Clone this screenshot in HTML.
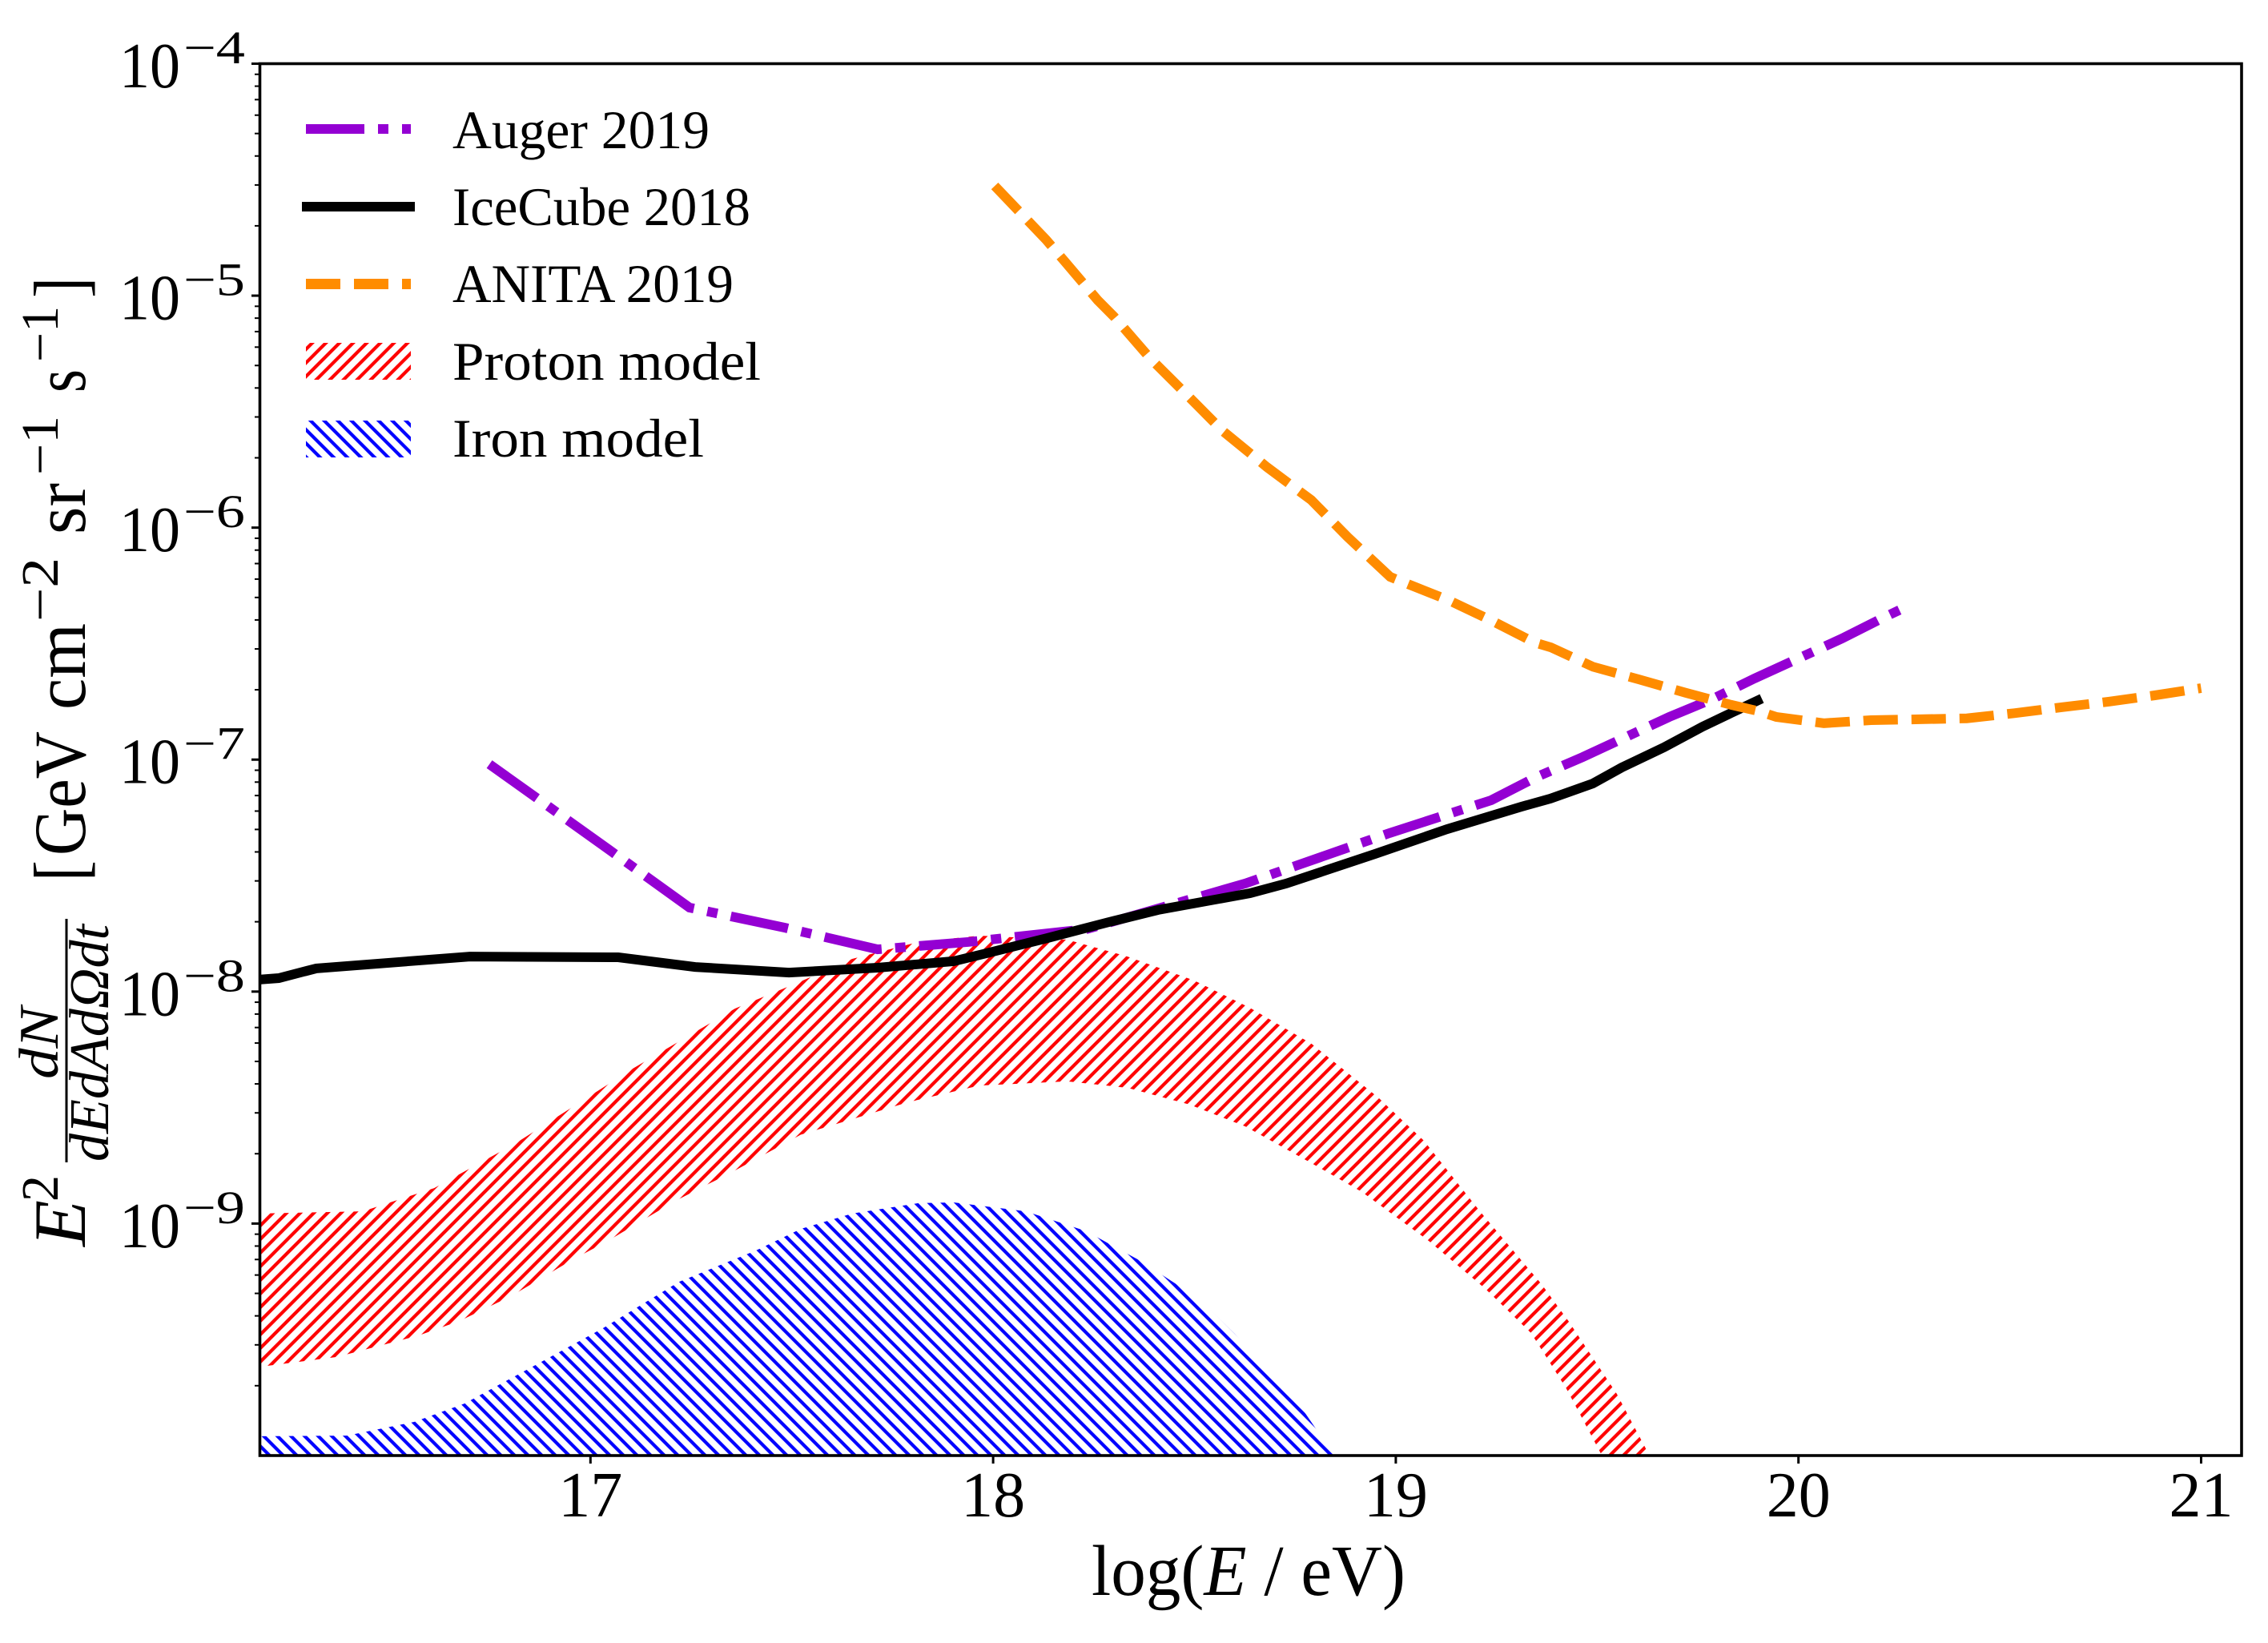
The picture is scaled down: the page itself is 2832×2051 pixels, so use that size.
<!DOCTYPE html>
<html lang="en">
<head>
<meta charset="utf-8">
<title>Neutrino flux limits and models</title>
<style>
html,body{margin:0;padding:0;background:#fff;}
svg{display:block;}
text{font-family:"Liberation Serif",serif;fill:#000;}
.it{font-style:italic;}
</style>
</head>
<body>
<svg id="chart" xmlns="http://www.w3.org/2000/svg" width="2832" height="2051" viewBox="0 0 2832 2051">
<defs>
<clipPath id="plot-clip"><rect x="325" y="80" width="2474" height="1736"/></clipPath>
<pattern id="hatch-red" width="17" height="17" patternUnits="userSpaceOnUse" patternTransform="translate(2,0)">
<path d="M-4,21L21,-4M-4,4L4,-4M13,21L21,13" stroke="#ff0000" stroke-width="4.2" fill="none"/>
</pattern>
<pattern id="hatch-blue" width="17" height="17" patternUnits="userSpaceOnUse" patternTransform="translate(0,1.3)">
<path d="M-4,-4L21,21M-4,13L4,21M13,-4L21,4" stroke="#0000ff" stroke-width="4.2" fill="none"/>
</pattern>
</defs>
<rect x="0" y="0" width="2832" height="2051" fill="#fff"/>
<g id="bands" clip-path="url(#plot-clip)"></g>
<g id="lines" clip-path="url(#plot-clip)"></g>
<g id="ticks"></g>
<g id="tick-labels"></g>
<rect x="324.5" y="79.5" width="2474.5" height="1737.5" fill="none" stroke="#000" stroke-width="3.6"/>

<g>
<g>
<line x1="382" y1="161" x2="513" y2="161" stroke="#9400d3" stroke-width="12" stroke-dasharray="73 17 13 17"/>
<text x="565" y="185" font-size="68" textLength="321" lengthAdjust="spacingAndGlyphs">Auger 2019</text>
</g>
<g>
<line x1="377" y1="258" x2="518" y2="258" stroke="#000" stroke-width="12"/>
<text x="565" y="281" font-size="68" textLength="372" lengthAdjust="spacingAndGlyphs">IceCube 2018</text>
</g>
<g>
<line x1="382" y1="354.5" x2="513" y2="354.5" stroke="#ff8c00" stroke-width="13" stroke-dasharray="43 17"/>
<text x="565" y="377" font-size="68" textLength="351" lengthAdjust="spacingAndGlyphs">ANITA 2019</text>
</g>
<g>
<rect x="382" y="428" width="131" height="46" fill="url(#hatch-red)"/>
<text x="565" y="474" font-size="68" textLength="385" lengthAdjust="spacingAndGlyphs">Proton model</text>
</g>
<g>
<rect x="382" y="525" width="131" height="46" fill="url(#hatch-blue)"/>
<text x="565" y="570" font-size="68" textLength="314" lengthAdjust="spacingAndGlyphs">Iron model</text>
</g>
</g>

<text x="1363" y="1991" font-size="90" textLength="392" lengthAdjust="spacingAndGlyphs">log(<tspan class="it">E</tspan> / eV)</text>

<g>
<text transform="translate(106,1556) rotate(-90)" class="it" font-size="92" textLength="58" lengthAdjust="spacingAndGlyphs">E</text>
<text transform="translate(72,1500) rotate(-90)" font-size="66">2</text>
<text transform="translate(72,1347) rotate(-90)" class="it" font-size="70" textLength="90" lengthAdjust="spacingAndGlyphs">dN</text>
<rect x="81.5" y="1147" width="3" height="304" fill="#000"/>
<text transform="translate(135,1450) rotate(-90)" class="it" font-size="70" textLength="296" lengthAdjust="spacingAndGlyphs">dEdAdΩdt</text>
<text transform="translate(106,1100) rotate(-90)" font-size="92" textLength="26" lengthAdjust="spacingAndGlyphs">[</text>
<text transform="translate(106,1068) rotate(-90)" font-size="92" textLength="155" lengthAdjust="spacingAndGlyphs">GeV</text>
<text transform="translate(106,886) rotate(-90)" font-size="92" textLength="108" lengthAdjust="spacingAndGlyphs">cm</text>
<text transform="translate(72,776) rotate(-90)" font-size="66" textLength="80" lengthAdjust="spacingAndGlyphs">−2</text>
<text transform="translate(106,667) rotate(-90)" font-size="92" textLength="64" lengthAdjust="spacingAndGlyphs">sr</text>
<text transform="translate(72,593) rotate(-90)" font-size="66" textLength="74" lengthAdjust="spacingAndGlyphs">−1</text>
<text transform="translate(106,490) rotate(-90)" font-size="92" textLength="29" lengthAdjust="spacingAndGlyphs">s</text>
<text transform="translate(72,452) rotate(-90)" font-size="66" textLength="70" lengthAdjust="spacingAndGlyphs">−1</text>
<text transform="translate(106,372) rotate(-90)" font-size="92" textLength="26" lengthAdjust="spacingAndGlyphs">]</text>
</g>
</svg>

<script>
// Data: x = log10(E/eV), values = log10(flux)
const xTickValues = [17, 18, 19, 20, 21];
const yTickExponents = [-4, -5, -6, -7, -8, -9];
const yMinorMultipliers = [2, 3, 4, 5, 6, 7, 8, 9];

const augerLogE = [16.749, 17.025, 17.246, 17.481, 17.713, 17.94, 18.232, 18.626, 18.984, 19.237, 19.349, 19.464, 19.679, 19.785, 19.891, 20.108, 20.211, 20.275];
const augerLogFlux = [-7.02, -7.362, -7.638, -7.724, -7.818, -7.786, -7.731, -7.534, -7.317, -7.175, -7.075, -6.989, -6.816, -6.74, -6.65, -6.478, -6.388, -6.335];

const icecubeLogE = [16.18, 16.226, 16.319, 16.7, 17.069, 17.26, 17.493, 17.713, 17.902, 17.992, 18.131, 18.284, 18.41, 18.638, 18.728, 18.948, 19.127, 19.312, 19.384, 19.489, 19.561, 19.666, 19.762, 19.833, 19.909];
const icecubeLogFlux = [-7.948, -7.942, -7.9, -7.849, -7.852, -7.894, -7.918, -7.897, -7.869, -7.831, -7.771, -7.702, -7.648, -7.576, -7.534, -7.407, -7.3, -7.203, -7.168, -7.103, -7.034, -6.947, -6.858, -6.799, -6.737];

const anitaLogE = [18.004, 18.131, 18.177, 18.26, 18.3, 18.39, 18.48, 18.57, 18.68, 18.79, 18.88, 18.986, 19.04, 19.13, 19.237, 19.344, 19.385, 19.49, 19.603, 19.72, 19.833, 19.903, 19.945, 20.063, 20.18, 20.3, 20.418, 20.536, 20.655, 20.772, 20.885, 21.0];
const anitaLogFlux = [-4.527, -4.758, -4.851, -5.02, -5.09, -5.27, -5.425, -5.583, -5.739, -5.881, -6.04, -6.212, -6.25, -6.312, -6.4, -6.495, -6.516, -6.6, -6.654, -6.712, -6.764, -6.792, -6.816, -6.843, -6.83, -6.826, -6.822, -6.8, -6.774, -6.75, -6.723, -6.692];

const protonUpperLogE = [16.18, 16.435, 16.612, 16.815, 17.107, 17.359, 17.513, 17.65, 17.815, 17.966, 18.184, 18.334, 18.499, 18.638, 18.791, 18.956, 19.07, 19.209, 19.362, 19.43, 19.549, 19.63];
const protonUpperLogFlux = [-8.957, -8.947, -8.847, -8.653, -8.33, -8.073, -7.963, -7.859, -7.786, -7.759, -7.776, -7.849, -7.952, -8.07, -8.225, -8.456, -8.643, -8.947, -9.261, -9.423, -9.734, -10];
const protonLowerLogE = [16.18, 16.371, 16.574, 16.675, 16.803, 16.954, 17.043, 17.208, 17.359, 17.522, 17.65, 17.789, 17.966, 18.184, 18.334, 18.487, 18.626, 18.791, 18.916, 19.082, 19.223, 19.336, 19.423, 19.512];
const protonLowerLogFlux = [-9.617, -9.575, -9.482, -9.42, -9.313, -9.157, -9.075, -8.905, -8.771, -8.617, -8.55, -8.477, -8.405, -8.387, -8.415, -8.487, -8.581, -8.74, -8.864, -9.075, -9.282, -9.472, -9.71, -10];

const ironUpperLogE = [16.18, 16.395, 16.562, 16.687, 16.878, 17.031, 17.22, 17.411, 17.522, 17.65, 17.815, 17.902, 18.081, 18.232, 18.296, 18.366, 18.467, 18.537, 18.6, 18.664, 18.76, 18.847];
const ironUpperLogFlux = [-9.917, -9.914, -9.855, -9.776, -9.596, -9.451, -9.251, -9.116, -9.023, -8.957, -8.912, -8.909, -8.947, -9.033, -9.095, -9.161, -9.275, -9.368, -9.475, -9.6, -9.779, -10];

const SVGNS = 'http://www.w3.org/2000/svg';
const X17 = 737.3, X_PER_UNIT = 502.8;
const Y_TOP = 79.5, Y_PER_DECADE = 289.58, TOP_EXP = -4;
function xAxis(v) { return X17 + (v - 17) * X_PER_UNIT; }
function yAxis(v) { return Y_TOP + (TOP_EXP - v) * Y_PER_DECADE; }
function pts(xs, ys) {
  return xs.map(function (x, i) { return xAxis(x).toFixed(1) + ',' + yAxis(ys[i]).toFixed(1); });
}

const bandsG = document.getElementById('bands');
const linesG = document.getElementById('lines');
const ticksG = document.getElementById('ticks');
const labelsG = document.getElementById('tick-labels');

// Bands
const protonBand = document.createElementNS(SVGNS, 'polygon');


protonBand.setAttribute('points', pts(protonUpperLogE, protonUpperLogFlux).concat(pts(protonLowerLogE, protonLowerLogFlux).reverse()).join(' '));
protonBand.setAttribute('fill', 'url(#hatch-red)');
bandsG.appendChild(protonBand);

const ironBand = document.createElementNS(SVGNS, 'polygon');


const ironFloor = [xAxis(ironUpperLogE[ironUpperLogE.length - 1]).toFixed(1) + ',' + yAxis(-10.2).toFixed(1), xAxis(ironUpperLogE[0]).toFixed(1) + ',' + yAxis(-10.2).toFixed(1)];
ironBand.setAttribute('points', pts(ironUpperLogE, ironUpperLogFlux).concat(ironFloor).join(' '));
ironBand.setAttribute('fill', 'url(#hatch-blue)');
bandsG.appendChild(ironBand);

// Lines
const augerLine = document.createElementNS(SVGNS, 'polyline');


augerLine.setAttribute('points', pts(augerLogE, augerLogFlux).join(' '));
augerLine.setAttribute('fill', 'none');
augerLine.setAttribute('stroke', '#9400d3');
augerLine.setAttribute('stroke-width', '12');
augerLine.setAttribute('stroke-dasharray', '73 17 13 17');
linesG.appendChild(augerLine);

const icecubeLine = document.createElementNS(SVGNS, 'polyline');


icecubeLine.setAttribute('points', pts(icecubeLogE, icecubeLogFlux).join(' '));
icecubeLine.setAttribute('fill', 'none');
icecubeLine.setAttribute('stroke', '#000');
icecubeLine.setAttribute('stroke-width', '12');
linesG.appendChild(icecubeLine);

const anitaLine = document.createElementNS(SVGNS, 'polyline');


anitaLine.setAttribute('points', pts(anitaLogE, anitaLogFlux).join(' '));
anitaLine.setAttribute('fill', 'none');
anitaLine.setAttribute('stroke', '#ff8c00');
anitaLine.setAttribute('stroke-width', '12');
anitaLine.setAttribute('stroke-dasharray', '43 17');
linesG.appendChild(anitaLine);

// X ticks and labels
xTickValues.forEach(function (v) {
  const t = document.createElementNS(SVGNS, 'line');
  
  
  t.setAttribute('x1', xAxis(v));
  t.setAttribute('x2', xAxis(v));
  t.setAttribute('y1', 1817);
  t.setAttribute('y2', 1827);
  t.setAttribute('stroke', '#000');
  t.setAttribute('stroke-width', '3');
  ticksG.appendChild(t);
  const l = document.createElementNS(SVGNS, 'text');
  
  
  l.setAttribute('x', xAxis(v));
  l.setAttribute('y', 1893);
  l.setAttribute('font-size', '80');
  l.setAttribute('text-anchor', 'middle');
  l.textContent = String(v);
  labelsG.appendChild(l);
});

// Y major ticks and labels
yTickExponents.forEach(function (e) {
  const y = yAxis(e);
  const t = document.createElementNS(SVGNS, 'line');
  
  
  t.setAttribute('x1', 314);
  t.setAttribute('x2', 325);
  t.setAttribute('y1', y);
  t.setAttribute('y2', y);
  t.setAttribute('stroke', '#000');
  t.setAttribute('stroke-width', '3');
  ticksG.appendChild(t);
  const base = document.createElementNS(SVGNS, 'text');
  
  
  base.setAttribute('x', 149);
  base.setAttribute('y', y + 29.5);
  base.setAttribute('font-size', '80');
  base.setAttribute('textLength', '76');
  base.setAttribute('lengthAdjust', 'spacingAndGlyphs');
  base.textContent = '10';
  labelsG.appendChild(base);
  const exp = document.createElementNS(SVGNS, 'text');
  
  
  exp.setAttribute('x', 229);
  exp.setAttribute('y', y - 0.5);
  exp.setAttribute('font-size', '58');
  exp.setAttribute('textLength', '77');
  exp.setAttribute('lengthAdjust', 'spacingAndGlyphs');
  exp.textContent = '\u2212' + String(Math.abs(e));
  labelsG.appendChild(exp);
});

// Y minor ticks
[-5, -6, -7, -8, -9, -10].forEach(function (e) {
  yMinorMultipliers.forEach(function (m) {
    const y = yAxis(e + Math.log10(m));
    const t = document.createElementNS(SVGNS, 'line');
    
    
    t.setAttribute('x1', 318);
    t.setAttribute('x2', 325);
    t.setAttribute('y1', y);
    t.setAttribute('y2', y);
    t.setAttribute('stroke', '#000');
    t.setAttribute('stroke-width', '2');
    ticksG.appendChild(t);
  });
});
</script>
</body>
</html>
